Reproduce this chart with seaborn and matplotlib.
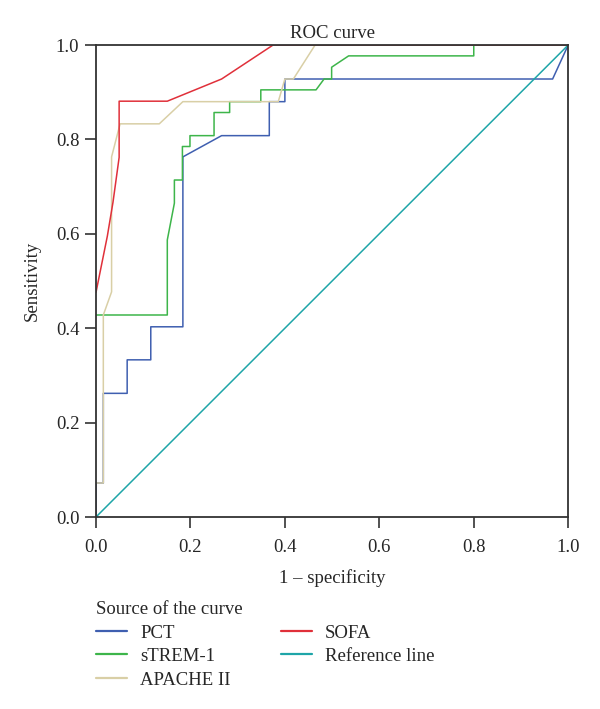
import numpy as np
import pandas as pd
import matplotlib
matplotlib.use("Agg")
import matplotlib.pyplot as plt
import seaborn as sns
from matplotlib.lines import Line2D

# ROC curve points: (1 - specificity, sensitivity)
pct_x = [0.0, 0.0, 0.0155, 0.0155, 0.066, 0.066, 0.116, 0.116, 0.184, 0.184, 0.266, 0.367,
         0.367, 0.40, 0.40, 0.967, 1.0]
pct_y = [0.0, 0.072, 0.072, 0.262, 0.262, 0.333, 0.333, 0.403, 0.403, 0.763, 0.808, 0.808,
         0.88, 0.88, 0.928, 0.928, 1.0]

strem_x = [0.0, 0.151, 0.151, 0.166, 0.166, 0.183, 0.183, 0.199, 0.199, 0.25, 0.25, 0.283,
           0.283, 0.349, 0.349, 0.466, 0.483, 0.499, 0.499, 0.535, 0.80, 0.80, 1.0]
strem_y = [0.428, 0.428, 0.587, 0.665, 0.714, 0.714, 0.785, 0.785, 0.808, 0.808, 0.857, 0.857,
           0.88, 0.88, 0.905, 0.905, 0.928, 0.928, 0.953, 0.977, 0.977, 1.0, 1.0]

apache_x = [0.0, 0.0155, 0.0155, 0.033, 0.033, 0.051, 0.134, 0.184, 0.386, 0.40, 0.418,
            0.464, 1.0]
apache_y = [0.072, 0.072, 0.428, 0.477, 0.763, 0.833, 0.833, 0.88, 0.88, 0.928, 0.928,
            1.0, 1.0]

sofa_x = [0.0, 0.024, 0.036, 0.049, 0.049, 0.151, 0.266, 0.375, 1.0]
sofa_y = [0.476, 0.595, 0.667, 0.762, 0.881, 0.881, 0.928, 1.0, 1.0]

ref_x = [0.0, 1.0]
ref_y = [0.0, 1.0]

curves = ["PCT", "sTREM-1", "APACHE II", "SOFA", "Reference line"]
colors = ["#3f5fb0", "#3db54a", "#d9cfa6", "#e0303a", "#1ea5a8"]

frames = []
for name, xs, ys in zip(curves,
                        [pct_x, strem_x, apache_x, sofa_x, ref_x],
                        [pct_y, strem_y, apache_y, sofa_y, ref_y]):
    frames.append(pd.DataFrame({"fpr": xs, "tpr": ys, "curve": name}))
df = pd.concat(frames, ignore_index=True)

sns.set_style("white")
plt.rcParams["font.family"] = ["Liberation Serif", "DejaVu Serif"]

fig = plt.figure(figsize=(6.0, 7.09), dpi=100)
ax = fig.add_axes([0.16, 0.2708, 0.787, 0.6657])

sns.lineplot(data=df, x="fpr", y="tpr", hue="curve", hue_order=curves,
             palette=dict(zip(curves, colors)), sort=False, estimator=None,
             linewidth=1.1, legend=False, ax=ax)

ax.set_xlim(0, 1)
ax.set_ylim(0, 1)
ticks = np.arange(0, 1.01, 0.2)
ax.set_xticks(ticks)
ax.set_yticks(ticks)
ax.set_xticklabels([f"{t:.1f}" for t in ticks], fontsize=13.5)
ax.set_yticklabels([f"{t:.1f}" for t in ticks], fontsize=13.5)
ax.tick_params(axis="both", direction="out", length=8, width=1.2, color="#333333",
               bottom=True, left=True)
ax.tick_params(axis="x", pad=7.5)
ax.tick_params(axis="y", pad=4)
for s in ax.spines.values():
    s.set_visible(True)
    s.set_color("#333333")
    s.set_linewidth(1.3)

ax.set_xlabel("1 \u2013 specificity", fontsize=13.5, labelpad=9.5)
ax.set_ylabel("Sensitivity", fontsize=13.5, labelpad=10.5)
ax.set_title("ROC curve", fontsize=13.5, pad=5)

handles = [Line2D([], [], color=c, linewidth=1.6) for c in colors]
leg = fig.legend(handles, curves, title="Source of the curve", ncol=2,
                 loc="upper left", bbox_to_anchor=(0.16, 0.1523), frameon=False,
                 fontsize=13.5, title_fontsize=13.5, handlelength=1.65,
                 handletextpad=0.7, columnspacing=2.67, labelspacing=0.34,
                 borderpad=0, borderaxespad=0)
leg._legend_box.align = "left"

fig.savefig("out.png", dpi=100)
